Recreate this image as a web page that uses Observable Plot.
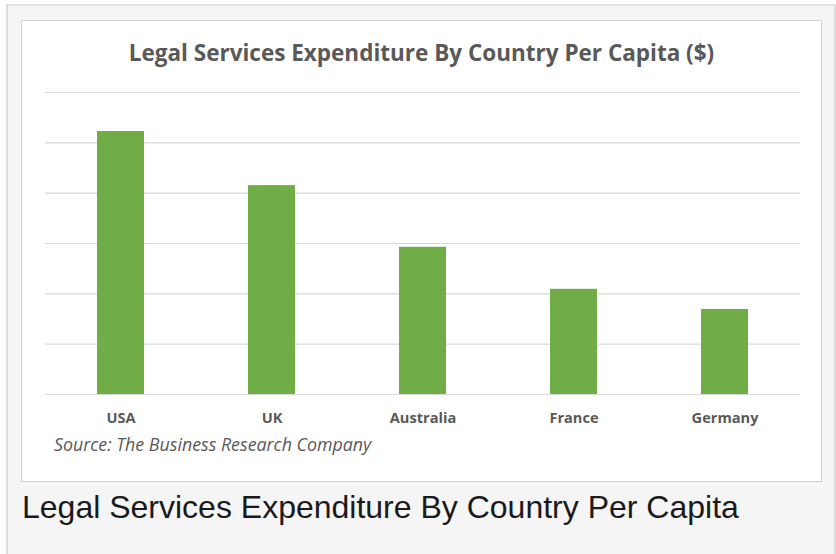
<!DOCTYPE html>
<html>
<head>
<meta charset="utf-8">
<script src="https://cdn.jsdelivr.net/npm/d3@7"></script>
<script src="https://cdn.jsdelivr.net/npm/@observablehq/plot@0.6"></script>
<style>
  html, body { margin: 0; padding: 0; background: #ffffff; width: 836px; height: 554px; overflow: hidden; }
  #outer { position: absolute; left: 6px; top: 4px; width: 826px; height: 560px; background: #f5f5f5;
           border-left: 2px solid #dcdcdc; border-top: 2px solid #e2e2e2; border-right: 2px solid #dcdcdc; }
  #panel { position: absolute; left: 21px; top: 20px; width: 799px; height: 460px; background: #fff;
           border: 1px solid #d2d2d2; }
  #title { position: absolute; left: 0; top: 16px; width: 799px; text-align: center;
           font-family: "Open Sans", sans-serif; font-weight: 700; font-size: 22.5px; color: #595959; }
  #chart { position: absolute; left: 0; top: 49px; }
  #source { position: absolute; left: 32px; top: 411px; font-family: "Open Sans", sans-serif;
            font-style: italic; font-size: 17.8px; color: #595959; }
  #caption { position: absolute; left: 22px; top: 489px; font-family: "Liberation Sans", Arial, sans-serif;
             font-size: 32px; color: #1a1a1a; }
</style>
</head>
<body>
<div id="outer"></div>
<div id="panel">
  <div id="title">Legal Services Expenditure By Country Per Capita ($)</div>
  <div id="chart"></div>
  <div id="source">Source: The Business Research Company</div>
</div>
<div id="caption">Legal Services Expenditure By Country Per Capita</div>
<script>
const countries = ["USA", "UK", "Australia", "France", "Germany"];
const values = [1045, 830, 585, 418, 338];
const gridTicks = [0, 200, 400, 600, 800, 1000, 1200];

const data = countries.map((c, i) => ({country: c, value: values[i]}));

const chart = Plot.plot({
  width: 799,
  height: 360,
  marginTop: 22,
  marginBottom: 36,
  marginLeft: 23,
  marginRight: 21,
  style: {background: "transparent", fontFamily: "Open Sans, sans-serif"},
  x: {domain: countries, label: null, paddingInner: 0.69, paddingOuter: 0.345, align: 0.5},
  y: {domain: [0, 1200], label: null, axis: null},
  marks: [
    Plot.ruleY(gridTicks, {stroke: "#d9d9d9", strokeWidth: 1.2}),
    Plot.barY(data, {x: "country", y: "value", fill: "#70ad47"}),
    Plot.ruleY([0], {stroke: "#d9d9d9", strokeWidth: 1.2}),
    Plot.axisX({tickSize: 0, tickPadding: 18, fontSize: 14.6, fontWeight: "bold", fill: "#595959", label: null})
  ]
});
document.getElementById("chart").appendChild(chart);
</script>
</body>
</html>
